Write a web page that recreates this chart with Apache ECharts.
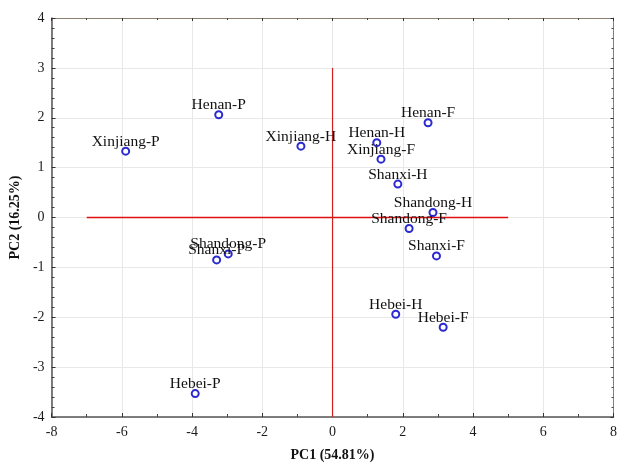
<!DOCTYPE html>
<html><head><meta charset="utf-8">
<script src="https://cdn.jsdelivr.net/npm/echarts@6/dist/echarts.min.js"></script>
<style>html,body{margin:0;padding:0;background:#fff}#c{width:620px;height:467px}</style>
</head><body><div id="c"></div>
<script>
const names = ["Xinjiang-P","Henan-P","Xinjiang-H","Henan-H","Xinjiang-F","Henan-F","Shanxi-H","Shandong-H","Shandong-F","Shanxi-F","Shanxi-P","Shandong-P","Hebei-H","Hebei-F","Hebei-P"];
const pc1 = [-5.89,-3.24,-0.90,1.26,1.38,2.72,1.86,2.86,2.18,2.96,-3.30,-2.97,1.80,3.15,-3.91];
const pc2 = [1.33,2.06,1.43,1.50,1.17,1.90,0.67,0.10,-0.22,-0.77,-0.85,-0.73,-1.94,-2.20,-3.53];
const hLine = [[-7,0],[5,0]];
const vLine = [[0,-4],[0,3]];

const serif = "'Liberation Serif','Times New Roman',serif";
const chart = echarts.init(document.getElementById('c'));
const lineMain = {show:true,onZero:false,lineStyle:{color:'#555',width:1.5}};
const lineSec = {show:true,onZero:false,lineStyle:{color:'#8a8070',width:1}};
chart.setOption({
  animation:false,
  grid:{left:50,right:3,top:18,bottom:45},
  xAxis:[
    {type:'value',min:-8,max:8,interval:2,position:'bottom',
      name:'PC1 (54.81%)',nameLocation:'middle',nameGap:31,
      nameTextStyle:{fontFamily:serif,fontWeight:'bold',fontSize:14,color:'#111'},
      axisLabel:{fontFamily:serif,fontSize:14,color:'#1a1a1a',margin:8},
      axisLine:lineMain,
      axisTick:{show:true,inside:true,length:4,lineStyle:{color:'#333'}},
      minorTick:{show:true,splitNumber:2,length:3,lineStyle:{color:'#444'}},
      splitLine:{show:true,lineStyle:{color:'#e8e8e8'}}},
    {type:'value',min:-8,max:8,interval:2,position:'top',
      axisLabel:{show:false},splitLine:{show:false},axisLine:lineSec,
      axisTick:{show:true,inside:true,length:3,lineStyle:{color:'#333'}},
      minorTick:{show:true,splitNumber:2,length:2,lineStyle:{color:'#444'}}}
  ],
  yAxis:[
    {type:'value',min:-4,max:4,interval:1,position:'left',
      name:'PC2 (16.25%)',nameLocation:'middle',nameGap:29,
      nameTextStyle:{fontFamily:serif,fontWeight:'bold',fontSize:14,color:'#111'},
      axisLabel:{fontFamily:serif,fontSize:14,color:'#1a1a1a',margin:7},
      axisLine:lineMain,
      axisTick:{show:true,inside:true,length:4,lineStyle:{color:'#333'}},
      minorTick:{show:true,splitNumber:5,length:3,lineStyle:{color:'#444'}},
      splitLine:{show:true,lineStyle:{color:'#e8e8e8'}}},
    {type:'value',min:-4,max:4,interval:1,position:'right',
      axisLabel:{show:false},splitLine:{show:false},axisLine:lineSec,
      axisTick:{show:true,inside:true,length:3,lineStyle:{color:'#333'}},
      minorTick:{show:true,splitNumber:5,length:2,lineStyle:{color:'#444'}}}
  ],
  series:[
    {type:'line',data:hLine,symbol:'none',lineStyle:{color:'#e01010',width:1.5},silent:true},
    {type:'line',data:vLine,symbol:'none',lineStyle:{color:'#d02020',width:1.2},silent:true},
    {type:'scatter',symbol:'emptyCircle',symbolSize:7,z:5,
      itemStyle:{color:'#2a2ad0',borderWidth:1,opacity:1},
      data:names.map((n,i)=>({name:n,value:[pc1[i],pc2[i]]})),
      label:{show:true,position:'top',distance:-3,formatter:p=>p.name,
        fontFamily:serif,fontSize:15.5,color:'#111',textBorderWidth:0}}
  ]
});
</script></body></html>
